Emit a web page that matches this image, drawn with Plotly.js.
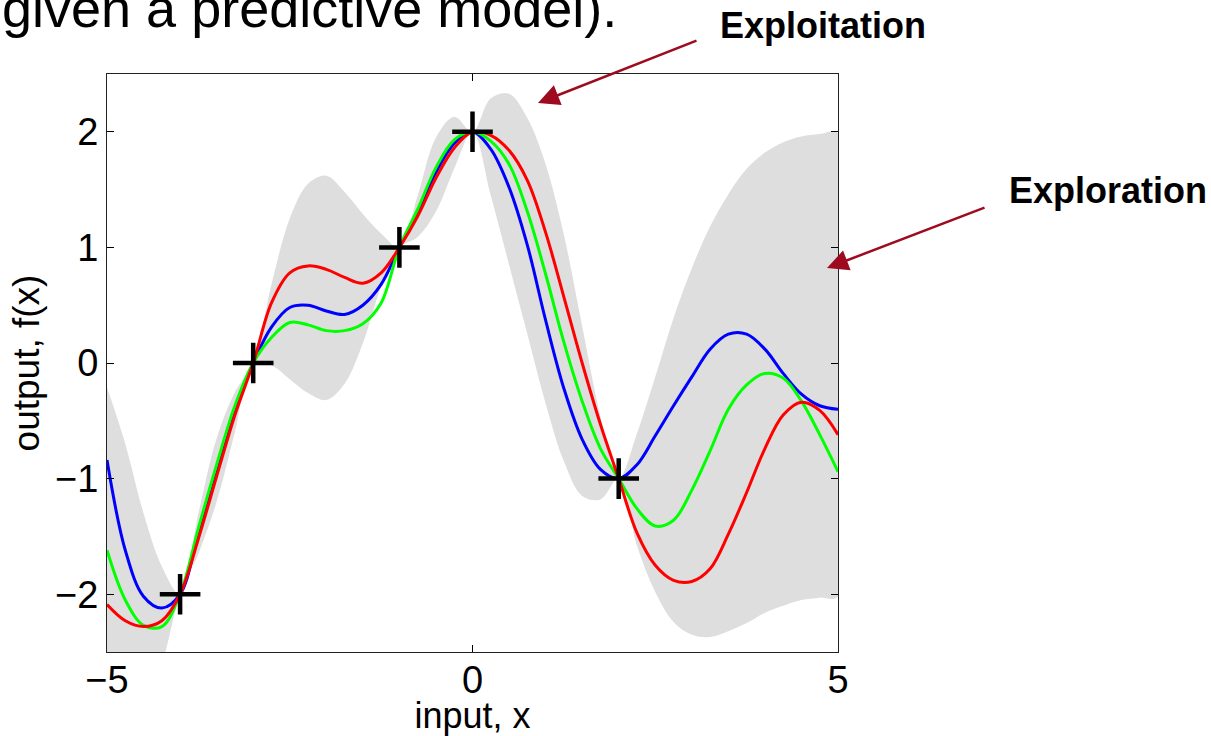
<!DOCTYPE html>
<html>
<head>
<meta charset="utf-8">
<script src="https://cdn.plot.ly/plotly-3.0.1.min.js"></script>
<style>
  html, body { margin: 0; padding: 0; background: #ffffff; }
  #chart { width: 1211px; height: 736px; }
</style>
</head>
<body>
<div id="chart"></div>
<script>
// ---- data ----
const xGrid = [-5,-4.75,-4.5,-4.25,-4,-3.75,-3.5,-3.25,-3,-2.75,-2.5,-2.25,-2,-1.75,-1.5,-1.25,-1,-0.75,-0.5,-0.25,0,0.25,0.5,0.75,1,1.25,1.5,1.75,2,2.25,2.5,2.75,3,3.25,3.5,3.75,4,4.25,4.5,4.75,5];

const bandUpper = [-0.21,-0.70,-1.30,-1.76,-2.0,-1.30,-0.65,-0.25,0,0.68,1.25,1.55,1.62,1.48,1.29,1.12,1.0,1.45,1.95,2.13,2.0,2.29,2.33,2.12,1.72,1.11,0.32,-0.46,-1.0,-0.61,-0.12,0.39,0.82,1.18,1.46,1.68,1.82,1.91,1.96,1.98,1.99];
const bandLower = [-3.6,-3.3,-2.95,-2.6,-2.0,-1.65,-1.2,-0.6,0,-0.02,-0.14,-0.26,-0.32,-0.18,0.17,0.66,1.0,1.09,1.31,1.68,2.0,1.45,0.85,0.25,-0.35,-0.85,-1.15,-1.18,-1.0,-1.58,-1.98,-2.24,-2.35,-2.37,-2.32,-2.25,-2.16,-2.10,-2.05,-2.03,-2.02];

const sampleRed   = [-2.09,-2.23,-2.28,-2.23,-2.0,-1.52,-0.98,-0.45,0,0.52,0.78,0.84,0.81,0.74,0.69,0.78,1.0,1.27,1.60,1.86,2.0,1.97,1.84,1.58,1.13,0.57,0.0,-0.53,-1.0,-1.47,-1.75,-1.88,-1.89,-1.78,-1.48,-1.12,-0.74,-0.45,-0.34,-0.41,-0.62];
const sampleBlue  = [-0.84,-1.62,-2.02,-2.12,-2.0,-1.47,-0.93,-0.41,0,0.31,0.48,0.50,0.45,0.42,0.50,0.68,1.0,1.30,1.65,1.90,2.0,1.85,1.52,1.02,0.37,-0.22,-0.66,-0.92,-1.0,-0.88,-0.63,-0.37,-0.12,0.12,0.25,0.25,0.12,-0.09,-0.27,-0.37,-0.40];
const sampleGreen = [-1.62,-2.05,-2.27,-2.28,-2.0,-1.43,-0.88,-0.37,0,0.22,0.35,0.33,0.28,0.28,0.34,0.52,1.0,1.33,1.69,1.93,2.0,1.92,1.72,1.31,0.77,0.18,-0.33,-0.74,-1.0,-1.26,-1.41,-1.36,-1.10,-0.76,-0.40,-0.19,-0.09,-0.13,-0.33,-0.62,-0.94];

const obsX = [-4,-3,-1,0,2];
const obsY = [-2,0,1,2,-1];

const xTicks = [-5,0,5];
const yTicks = [-2,-1,0,1,2];

const topText = "given a predictive model).";
const labelExploit = "Exploitation";
const labelExplore = "Exploration";
const xTitle = "input, x";
const yTitle = "output, f(x)";

// ---- build traces ----
const bandX = xGrid.concat(xGrid.slice().reverse());
const bandY = bandUpper.concat(bandLower.slice().reverse());

const traces = [
  {x: bandX, y: bandY, type: 'scatter', mode: 'lines', fill: 'toself',
   fillcolor: '#dedede', line: {width: 0, shape: 'spline', smoothing: 1}, hoverinfo: 'skip'},
  {x: xGrid, y: sampleBlue, type: 'scatter', mode: 'lines',
   line: {color: '#0000ff', width: 3, shape: 'spline', smoothing: 1}},
  {x: xGrid, y: sampleGreen, type: 'scatter', mode: 'lines',
   line: {color: '#00ff00', width: 3, shape: 'spline', smoothing: 1}},
  {x: xGrid, y: sampleRed, type: 'scatter', mode: 'lines',
   line: {color: '#ff0000', width: 3, shape: 'spline', smoothing: 1}},
  {x: obsX, y: obsY, type: 'scatter', mode: 'markers',
   marker: {symbol: 'cross-thin', size: 29, color: '#000000', line: {color: '#000000', width: 4.5}}}
];

// pixel helpers for annotation placement (plot area 107..838 x 74..652)
const L = 107, R = 838, T = 74, B = 652;
const px = p => (p - L) / (R - L);
const py = p => (B - p) / (B - T);
const arrowColor = '#9e0b1f';

const layout = {
  width: 1211, height: 736,
  margin: {l: L, r: 1211 - R, t: T, b: 736 - B, pad: 0},
  paper_bgcolor: '#ffffff', plot_bgcolor: '#ffffff',
  showlegend: false,
  font: {family: 'Liberation Sans, Arial, sans-serif', color: '#000000'},
  xaxis: {
    range: [-5, 5], tickvals: xTicks, ticks: 'inside', ticklen: 7, tickwidth: 1, tickcolor: '#000',
    showline: true, linecolor: '#222', linewidth: 1, mirror: 'ticks', showgrid: false, zeroline: false,
    tickfont: {size: 38}, automargin: false, ticklabelstandoff: -6,
    title: {text: xTitle, font: {size: 36}, standoff: 4}
  },
  yaxis: {
    range: [-2.5, 2.5], tickvals: yTicks, ticks: 'inside', ticklen: 7, tickwidth: 1, tickcolor: '#000',
    showline: true, linecolor: '#222', linewidth: 1, mirror: 'ticks', showgrid: false, zeroline: false,
    tickfont: {size: 38}, automargin: false,
    title: {text: yTitle, font: {size: 37}, standoff: 4}
  },
  annotations: [
    {xref: 'paper', yref: 'paper', x: px(0), y: py(8), xanchor: 'left', yanchor: 'middle',
     text: topText, showarrow: false, font: {size: 54, color: '#000'}},
    {xref: 'paper', yref: 'paper', x: px(718), y: py(25.5), xanchor: 'left', yanchor: 'middle',
     text: '<b>' + labelExploit + '</b>', showarrow: false, font: {size: 36, color: '#000'}},
    {xref: 'paper', yref: 'paper', x: px(1007), y: py(190.5), xanchor: 'left', yanchor: 'middle',
     text: '<b>' + labelExplore + '</b>', showarrow: false, font: {size: 36, color: '#000'}},
    {xref: 'paper', yref: 'paper', x: px(538), y: py(103), ax: 160, ay: -63, text: '',
     showarrow: true, arrowhead: 2, arrowsize: 1.7, arrowwidth: 2.5, arrowcolor: arrowColor},
    {xref: 'paper', yref: 'paper', x: px(827), y: py(268), ax: 159, ay: -61, text: '',
     showarrow: true, arrowhead: 2, arrowsize: 1.7, arrowwidth: 2.5, arrowcolor: arrowColor}
  ]
};

Plotly.newPlot('chart', traces, layout, {staticPlot: true, displayModeBar: false});
</script>
</body>
</html>
